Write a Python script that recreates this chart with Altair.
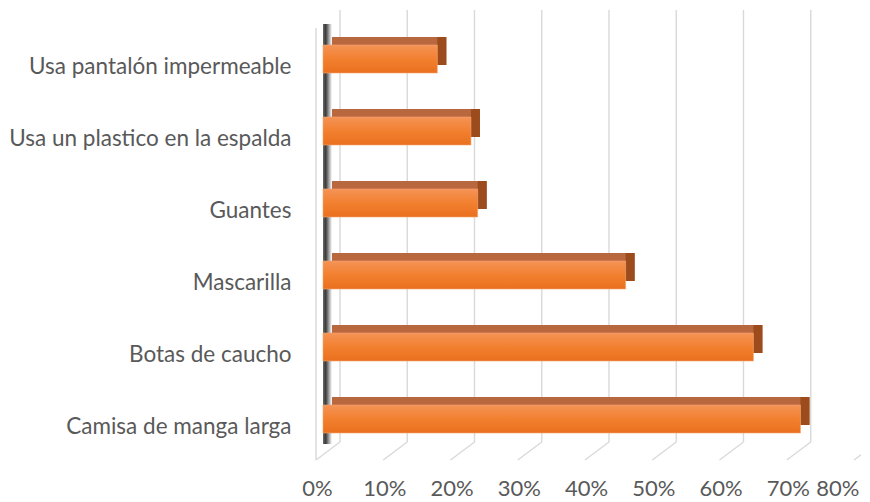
import altair as alt
import pandas as pd

categories = [
    "Usa pantalón impermeable",
    "Usa un plastico en la espalda",
    "Guantes",
    "Mascarilla",
    "Botas de caucho",
    "Camisa de manga larga",
]
values = [0.17, 0.22, 0.23, 0.45, 0.64, 0.71]
tick_values = [0.0, 0.1, 0.2, 0.3, 0.4, 0.5, 0.6, 0.7, 0.8]

df = pd.DataFrame({"cat": categories, "val": values})
ticks = pd.DataFrame({"t": tick_values})
origin = pd.DataFrame({"t": [0.0]})

FONT = "Lato"
TXT = "#595959"
GRID = "#d9d9d9"

xscale = alt.Scale(domain=[0, 0.8], nice=False, zero=True)
yscale = alt.Scale(domain=categories, paddingInner=0.611, paddingOuter=0.514)

xaxis = alt.Axis(
    title=None, values=tick_values, format=".0%", domain=False, ticks=False,
    grid=False, labelPadding=8,
    labelOffset=alt.condition("datum.value >= 0.79", alt.value(-2), alt.value(-6)),
    labelAlign=alt.condition("datum.value >= 0.79", alt.value("right"), alt.value("center")),
    labelFlush=False, labelOverlap=False,
    labelFont=FONT, labelFontSize=22, labelColor=TXT,
)
yaxis = alt.Axis(
    title=None, domain=False, ticks=False, labelPadding=32, labelOffset=8,
    labelFont=FONT, labelFontSize=22.5, labelColor=TXT, labelLimit=400,
)

xq = alt.X("t:Q", scale=xscale, axis=xaxis)
xv = alt.X("val:Q", scale=xscale, axis=xaxis)
yc = alt.Y("cat:N", scale=yscale, sort=categories, axis=yaxis)

back = alt.Chart(ticks).mark_rule(color=GRID, strokeWidth=1.4, xOffset=17).encode(
    x=xq, y=alt.value(2), y2=alt.value(434)
)
floor = alt.Chart(ticks).mark_rule(color=GRID, strokeWidth=1.4, xOffset=17, x2Offset=-7).encode(
    x=xq, x2="t:Q", y=alt.value(434), y2=alt.value(452)
)
frontline = alt.Chart(origin).mark_rule(color=GRID, strokeWidth=1.4, xOffset=-7).encode(
    x=xq, y=alt.value(20), y2=alt.value(452)
)
wall = alt.Chart(origin).mark_rect(
    x2Offset=9,
    color=alt.Gradient(
        gradient="linear",
        stops=[
            alt.GradientStop(color="#6a6a6a", offset=0),
            alt.GradientStop(color="#3a3a3a", offset=0.3),
            alt.GradientStop(color="#ffffff", offset=1),
        ],
        x1=0, x2=1, y1=0, y2=0,
    ),
).encode(x=xq, x2="t:Q", y=alt.value(16), y2=alt.value(436))

top = alt.Chart(df).mark_bar(
    color="#b9673f", xOffset=9, x2Offset=9, yOffset=-8, y2Offset=-8
).encode(x=xv, y=yc)

side = alt.Chart(df).mark_bar(
    color="#9c4b1c", xOffset=0, x2Offset=9, yOffset=-8, y2Offset=-8
).encode(x=xv, x2="val:Q", y=yc)

front = alt.Chart(df).mark_bar(
    color=alt.Gradient(
        gradient="linear",
        stops=[
            alt.GradientStop(color="#f59357", offset=0),
            alt.GradientStop(color="#f2802f", offset=0.5),
            alt.GradientStop(color="#e9701e", offset=1),
        ],
        x1=0, x2=0, y1=0, y2=1,
    ),
    stroke="#f7a46c",
    strokeWidth=0.6,
).encode(x=xv, y=yc)

chart = alt.layer(back, floor, frontline, wall, top, side, front).properties(
    width=538,
    height=462,
    autosize=alt.AutoSizeParams(type="none"),
    padding={"left": 315, "top": 0, "right": 0, "bottom": 30},
).configure_view(stroke=None)

chart.save("out.html", embed_options={"renderer": "svg", "actions": False})
